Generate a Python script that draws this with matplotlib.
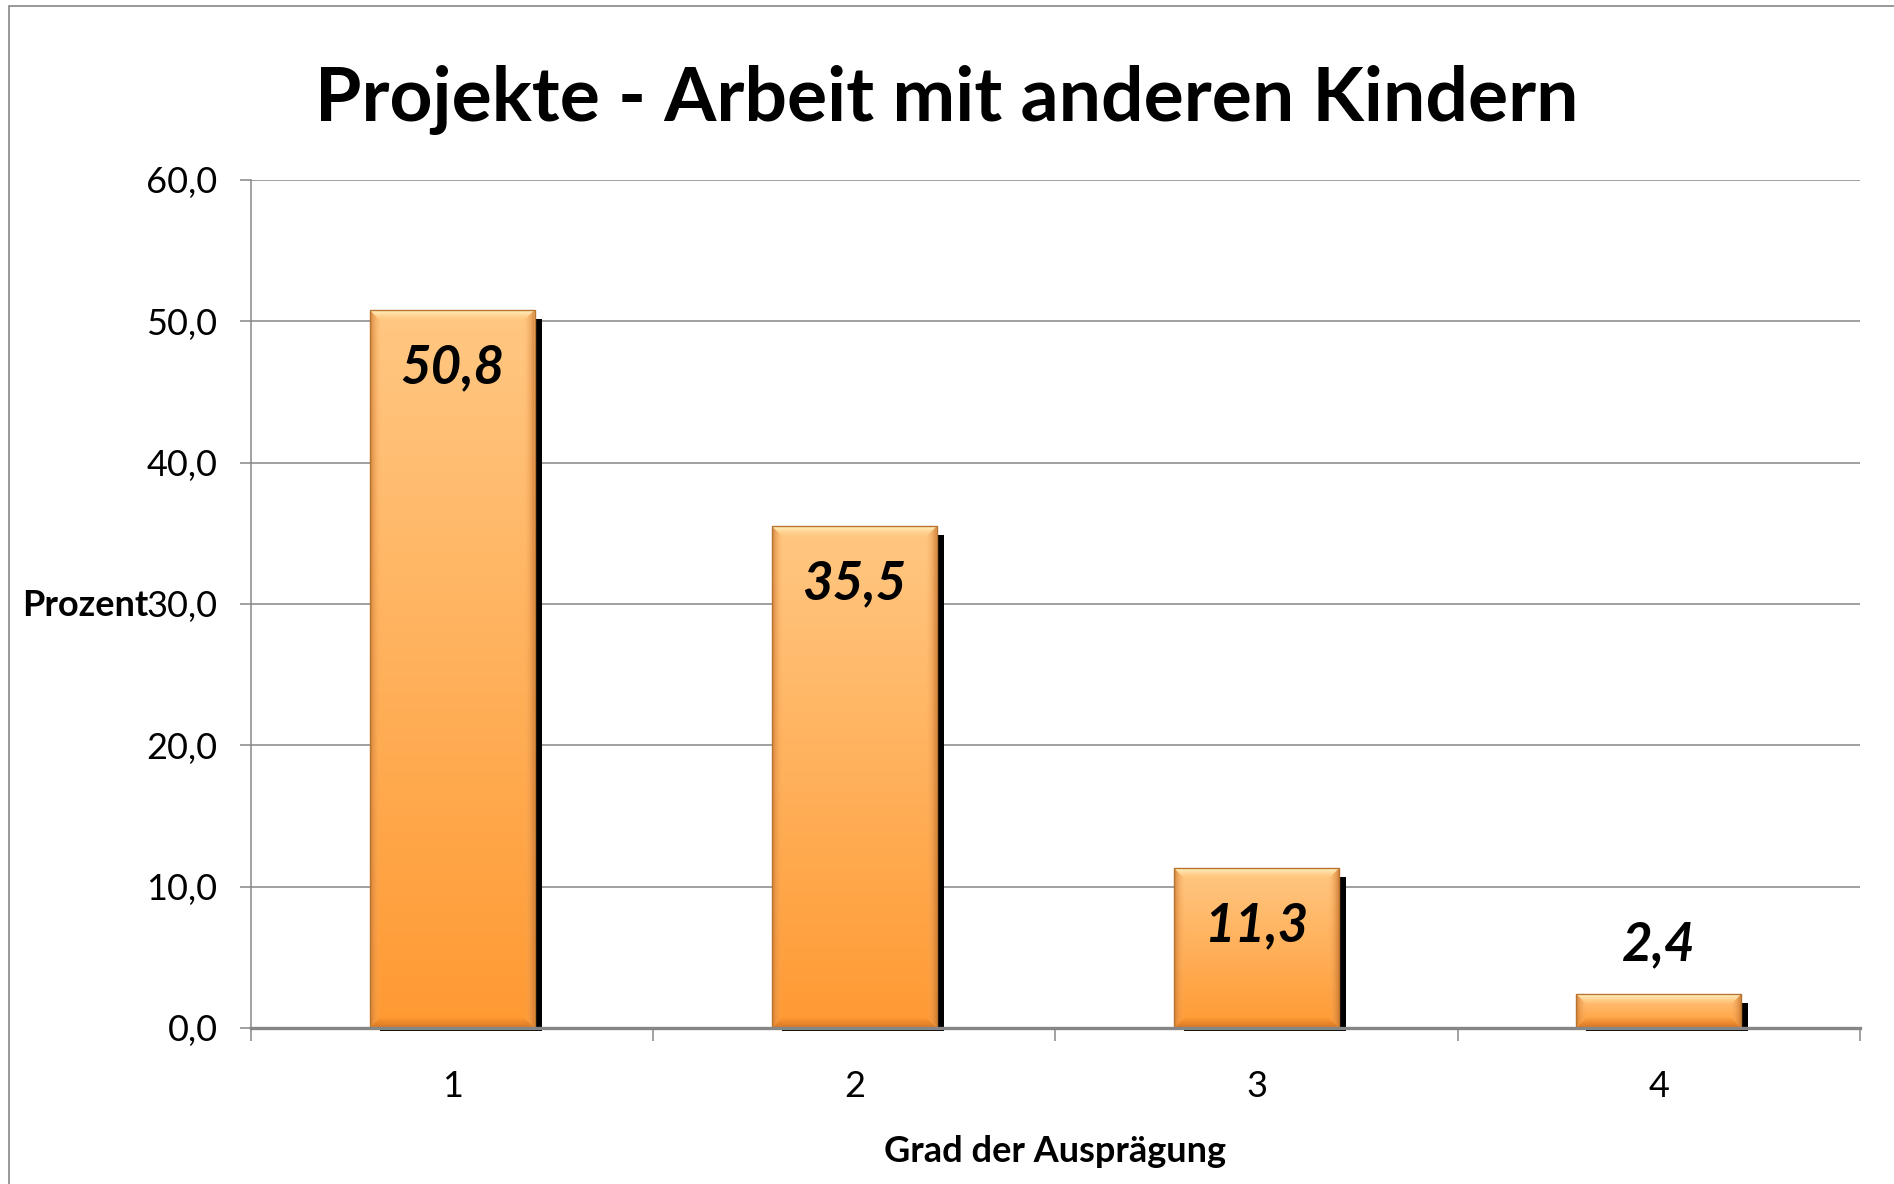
import numpy as np
import matplotlib.pyplot as plt
from matplotlib.patches import Rectangle, Polygon
from matplotlib.colors import to_rgba

# data
categories = ['1', '2', '3', '4']
values = [50.8, 35.5, 11.3, 2.4]
value_labels = ['50,8', '35,5', '11,3', '2,4']
y_ticks = [0, 10, 20, 30, 40, 50, 60]
y_tick_labels = ['0,0', '10,0', '20,0', '30,0', '40,0', '50,0', '60,0']

plt.rcParams['font.family'] = ['Lato', 'DejaVu Sans']

fig = plt.figure(figsize=(18.94, 11.84), dpi=100)
ax = fig.add_axes([0.1325, 0.1318, 0.8495, 0.7162])

x = np.arange(1, len(values) + 1)
bw = 0.41
ax.set_xlim(0.5, 4.5)
ax.set_ylim(0, 60)

# pixel -> data units
bb = ax.get_window_extent()
px = 4.0 / bb.width
py = 60.0 / bb.height


def grad_fill(poly_xy, c_top, c_bot, extent, zorder, vertical=True):
    # gradient image clipped to a polygon
    poly = Polygon(poly_xy, closed=True, facecolor='none', edgecolor='none')
    ax.add_patch(poly)
    t = np.linspace(0, 1, 64)
    a = np.array(to_rgba(c_top))
    b = np.array(to_rgba(c_bot))
    arr = a[None, :] * (1 - t[:, None]) + b[None, :] * t[:, None]
    arr = arr[:, None, :] if vertical else arr[None, :, :]
    im = ax.imshow(arr, extent=extent, aspect='auto', origin='upper',
                   zorder=zorder, interpolation='bilinear')
    im.set_clip_path(poly)


bars = ax.bar(x, values, width=bw, color='none', edgecolor='none', zorder=3)

for rect, v in zip(bars, values):
    x0 = rect.get_x()
    x1 = x0 + rect.get_width()
    h = rect.get_height()
    # shadow
    ax.add_patch(Rectangle((x0 + 10 * px, -3 * py), (x1 - x0) - 3 * px, h - 6 * py,
                           facecolor='black', edgecolor='none', zorder=2, clip_on=False))
    # body
    grad_fill([(x0, 0), (x1, 0), (x1, h), (x0, h)], '#FFC782', '#FF9A33',
              (x0, x1, 0, h), 3)
    bx = 11 * px
    by = min(11 * py, h / 3)
    # top bevel
    grad_fill([(x0, h), (x1, h), (x1 - bx, h - by), (x0 + bx, h - by)],
              '#FFF8C8', (1, 0.82, 0.55, 0.0), (x0, x1, h - by, h), 4)
    # bottom bevel
    grad_fill([(x0, 0), (x1, 0), (x1 - bx, by), (x0 + bx, by)],
              (0.85, 0.45, 0.12, 0.0), (0.82, 0.45, 0.15, 0.9), (x0, x1, 0, by), 4)
    # side bevels
    grad_fill([(x0, 0), (x0 + bx, by), (x0 + bx, h - by), (x0, h)],
              (0.80, 0.48, 0.20, 0.85), (1, 0.7, 0.4, 0.0), (x0, x0 + bx, 0, h), 4,
              vertical=False)
    grad_fill([(x1, 0), (x1 - bx, by), (x1 - bx, h - by), (x1, h)],
              (1, 0.7, 0.4, 0.0), (0.80, 0.48, 0.20, 0.85), (x1 - bx, x1, 0, h), 4,
              vertical=False)
    ax.add_patch(Rectangle((x0, 0), x1 - x0, h, facecolor='none',
                           edgecolor='#B8742F', lw=1.0, zorder=5))

ax.set_xlim(0.5, 4.5)
ax.set_ylim(0, 60)

# value labels
for xi, v, lab in zip(x, values, value_labels):
    yy = v - 4.1 if v > 8 else v + 3.5
    ax.text(xi, yy, lab, ha='center', va='center', fontsize=38,
            fontweight='bold', fontstyle='italic', color='black', zorder=6)

# axes styling
grid_c = '#868686'
ax.set_axisbelow(True)
ax.yaxis.grid(True, color=grid_c, lw=1.1)
ax.set_yticks(y_ticks)
ax.set_yticklabels(y_tick_labels)
ax.tick_params(axis='y', direction='out', length=8, width=1.1, color=grid_c,
               pad=16, labelsize=26, labelcolor='black')
ax.set_xticks([0.5, 1.5, 2.5, 3.5, 4.5])
ax.set_xticklabels([])
ax.set_xticks(x, minor=True)
ax.set_xticklabels(categories, minor=True)
ax.tick_params(axis='x', which='major', direction='out', length=9, width=1.1,
               color=grid_c)
ax.tick_params(axis='x', which='minor', length=0, pad=30, labelsize=26,
               labelcolor='black')

ax.spines['top'].set_visible(False)
ax.spines['right'].set_visible(False)
ax.spines['left'].set_color(grid_c)
ax.spines['left'].set_linewidth(1.1)
ax.spines['bottom'].set_color(grid_c)
ax.spines['bottom'].set_linewidth(2.4)
ax.spines['bottom'].set_zorder(7)

# titles
fig.text(0.5, 1 - 100 / 1184, 'Projekte - Arbeit mit anderen Kindern',
         ha='center', va='center', fontsize=54, fontweight='bold')
fig.text(1055 / 1894, 1 - 1152 / 1184, 'Grad der Ausprägung',
         ha='center', va='center', fontsize=26, fontweight='bold')
fig.text(22 / 1894, 1 - 606 / 1184, 'Prozent',
         ha='left', va='center', fontsize=26, fontweight='bold')

# chart frame
fig.patches.append(Rectangle((9 / 1894, -0.1), 2, 1.1 - 6 / 1184, fill=False,
                             edgecolor=grid_c, lw=1.2, transform=fig.transFigure))

fig.savefig('out.png', dpi=100)
